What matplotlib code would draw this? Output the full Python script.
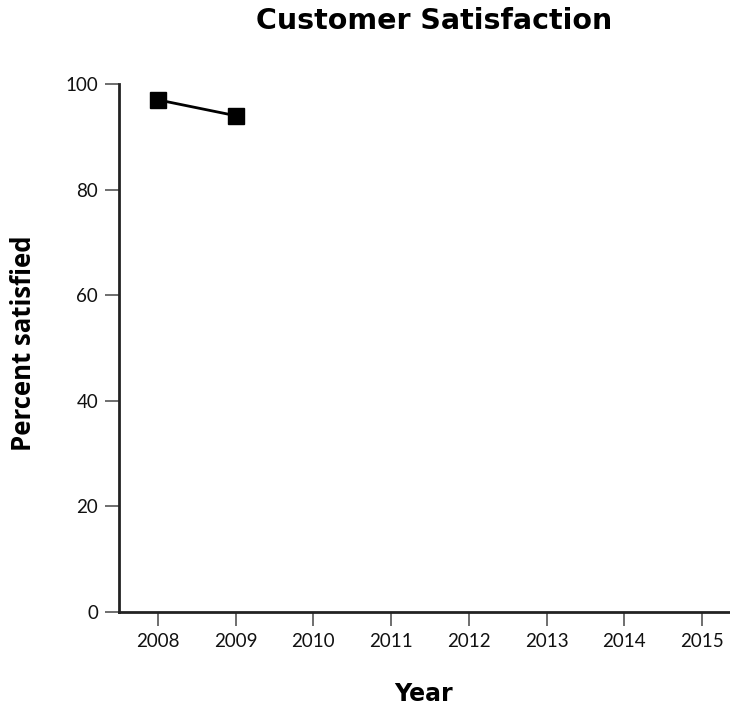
import matplotlib
matplotlib.use("Agg")
import matplotlib.pyplot as plt

# data
years = [2008, 2009]
satisfied = [97, 94]
year_ticks = [2008, 2009, 2010, 2011, 2012, 2013, 2014, 2015]
pct_ticks = [0, 20, 40, 60, 80, 100]

W, H = 730, 707
fig = plt.figure(figsize=(W / 100, H / 100), dpi=100)
fig.patch.set_facecolor("white")

# axes box in pixels: left 119, right 730, top 84, bottom 612
ax = fig.add_axes([119 / W, (H - 612) / H, (730 - 119) / W, (612 - 84) / H])

ax.plot(years, satisfied, color="black", lw=2, marker="s", ms=11,
        mfc="black", mec="black", clip_on=False, zorder=3)

ax.set_xlim(2007.5, 2015.36)
ax.set_ylim(0, 100)
ax.set_xticks(year_ticks)
ax.set_yticks(pct_ticks)

for s in ("top", "right"):
    ax.spines[s].set_visible(False)
for s in ("left", "bottom"):
    ax.spines[s].set_color("#222222")
    ax.spines[s].set_linewidth(2)

ax.tick_params(axis="both", length=10, width=1.2, color="#555555",
               labelsize=13.5, labelcolor="#111111", pad=5)
for lab in ax.get_xticklabels() + ax.get_yticklabels():
    lab.set_family("Lato")

fig.text(434 / W, 1 - 21 / H, "Customer Satisfaction", ha="center", va="center",
         fontsize=20.5, fontweight="bold", family="DejaVu Sans")
fig.text(423 / W, 1 - 694 / H, "Year", ha="center", va="center",
         fontsize=17, fontweight="bold", family="DejaVu Sans")
fig.text(24 / W, 1 - 343 / H, "Percent satisfied", ha="center", va="center",
         rotation=90, fontsize=18.5, fontweight="bold", family="Open Sans")

fig.savefig("out.png", dpi=100, facecolor="white")
